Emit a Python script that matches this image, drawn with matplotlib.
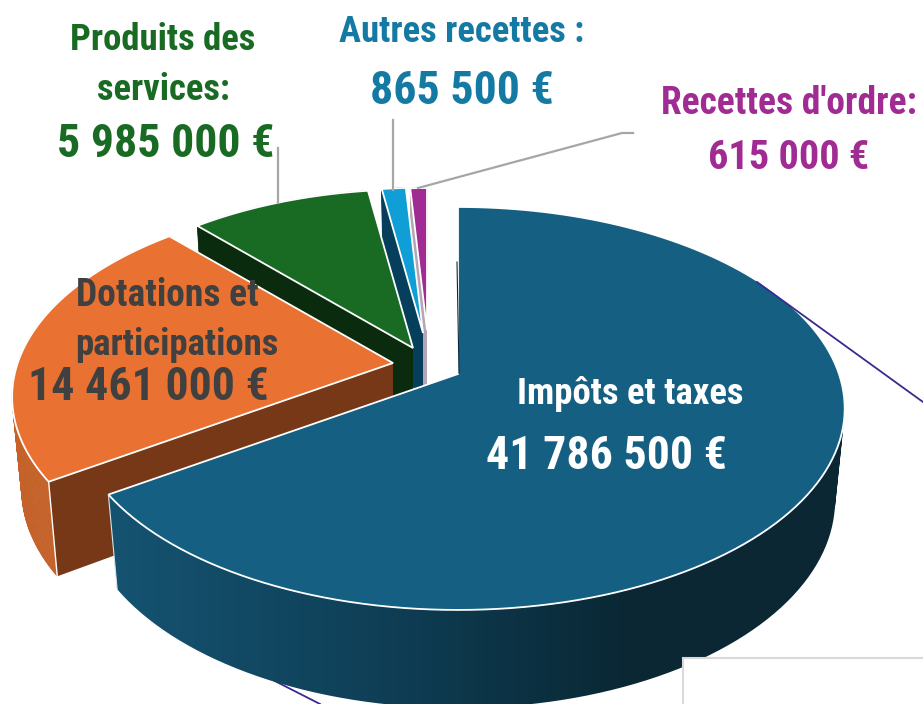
import numpy as np
import matplotlib
matplotlib.use('Agg')
import matplotlib.pyplot as plt
from matplotlib.collections import PolyCollection
from matplotlib.colors import LinearSegmentedColormap
from matplotlib.patches import PathPatch, Polygon, Rectangle
from matplotlib.path import Path

labels = ['Impôts et taxes', 'Dotations et participations', 'Produits des services',
          'Autres recettes', "Recettes d'ordre"]
values = [41786500, 14461000, 5985000, 865500, 615000]
value_labels = ['41 786 500 €', '14 461 000 €', '5 985 000 €', '865 500 €', '615 000 €']

top_colors = ['#156082', '#E97132', '#196B24', '#0F9ED5', '#A02B93']
face_colors = ['#0a2a3a', '#763817', '#0a2b0e', '#063f5c', '#b4a6b4']
apex = [(458, 374), (393, 363), (413, 348), (423, 333), (427, 330)]
scale = [1.0, 0.985, 0.95, 0.87, 0.85]

plt.rcParams['font.family'] = ['Roboto Condensed', 'Archivo Narrow', 'Roboto', 'DejaVu Sans']
plt.rcParams['font.weight'] = 'bold'

# tilted pie: unit circle through a perspective map, in pixel coordinates
A, B, C = 195.6, 381.0, 0.171
DEPTH, SHRINK_X, SHRINK_Y = 91, 0.975, 1.03


def rim(theta, k, p, lower=False):
    u, v = np.sin(theta), np.cos(theta)
    d = 1 + C * v
    x, y = k * B * u / d, -k * A * v / d
    if lower:
        return np.c_[p[0] + SHRINK_X * x, p[1] + DEPTH + SHRINK_Y * y]
    return np.c_[p[0] + x, p[1] + y]


def wall_quads(up, lo):
    quads = []
    for j in range(len(up) - 1):
        q = np.array([up[j], up[j + 1], lo[j + 1], lo[j]])
        # same turning direction for all, so the union fills without holes
        area = np.sum(q[:, 0] * np.roll(q[:, 1], -1) - np.roll(q[:, 0], -1) * q[:, 1])
        quads.append(q if area > 0 else q[::-1])
    return quads


fig = plt.figure(figsize=(9.23, 7.04), dpi=100)
ax = fig.add_axes([0, 0, 1, 1])

ax.plot([263, 320], [675, 704], color='#3a2a8f', lw=1.3, zorder=1)

edges = np.radians(np.r_[0, np.cumsum(values)] / np.sum(values) * 360)
wall_blue = LinearSegmentedColormap.from_list('b', ['#155472', '#0f4058', '#0a2733', '#0a2733'])

z = 2
# back to front: smallest slices first, big blue one last
for i in [4, 3, 2, 1, 0]:
    t = np.linspace(edges[i], edges[i + 1], 140)
    up = rim(t, scale[i], apex[i])
    lo = rim(t, scale[i], apex[i], lower=True)
    quads = wall_quads(up, lo)
    if i == 0:
        verts = np.vstack([np.vstack([q, q[0]]) for q in quads])
        codes = np.tile([Path.MOVETO, Path.LINETO, Path.LINETO, Path.LINETO, Path.CLOSEPOLY], len(quads))
        wall = PathPatch(Path(verts, codes), fc='none', ec='none', zorder=z)
        ax.add_patch(wall)
        grad = np.linspace(0, 1, 256)[None, :]
        im = ax.imshow(grad, cmap=wall_blue, extent=(100, 900, 720, 300), aspect='auto', zorder=z)
        im.set_clip_path(wall)
    else:
        wall_col = '#c4622a' if i == 1 else face_colors[i]
        ax.add_collection(PolyCollection(quads, facecolors=wall_col, edgecolors=wall_col, lw=0.5, zorder=z))
    z += 1
    a_up, a_lo = np.array(apex[i], float), np.array([apex[i][0], apex[i][1] + DEPTH], float)
    if i > 0:
        face = [a_up, up[0], lo[0], a_lo]
        ax.add_patch(Polygon(face, closed=True, fc=face_colors[i], ec='none', zorder=z))
    top = np.vstack([a_up, up])
    ax.add_patch(Polygon(top, closed=True, fc=top_colors[i], ec='white', lw=1.3,
                         joinstyle='miter', zorder=z + 1))
    if i == 1:
        ax.plot([up[0, 0], lo[0, 0]], [up[0, 1], lo[0, 1]], color='white', lw=1, zorder=z + 1)
    if i == 0:
        ax.plot([up[-1, 0], lo[-1, 0]], [up[-1, 1], lo[-1, 1]], color='#d8e4ea', lw=0.8, zorder=z + 1)
        ax.plot([457, 459], [262, 373], color='#0a2a3a', lw=0.8, zorder=z + 1)
    z += 2

# leader lines
ax.plot([757, 923], [282, 402], color='#3a2a8f', lw=1.3, zorder=30)
ax.plot([278, 278], [148, 203], color='#a6a6a6', lw=1.6, zorder=30)
ax.plot([393, 393], [120, 190], color='#a6a6a6', lw=1.6, zorder=30)
ax.plot([418, 622, 633], [188, 133, 133], color='#a6a6a6', lw=1.6, zorder=30)

# box at the bottom right
ax.add_patch(Rectangle((683, 658), 260, 60, fc='white', ec='#d9d9d9', lw=1.5, zorder=40))

GREEN, BLUE, PURPLE, GREY = '#196B24', '#157AA3', '#A02B93', '#404040'


def lab(x, y, s, size, color):
    ax.text(x, y + 3, s, fontsize=size, color=color, ha='center', va='center', zorder=50)


lab(163, 37, 'Produits des', 26.5, GREEN)
lab(163, 87, 'services:', 26.5, GREEN)
lab(166, 141, value_labels[2], 33, GREEN)
lab(462, 29, 'Autres recettes :', 26.5, BLUE)
lab(462, 88, value_labels[3], 33, BLUE)
lab(789, 101, "Recettes d'ordre:", 27, PURPLE)
lab(789, 155, value_labels[4], 29, PURPLE)
lab(167, 292, 'Dotations et', 27, GREY)
lab(177, 342, 'participations', 26.5, GREY)
lab(148, 384, value_labels[1], 33, GREY)
lab(630, 391, labels[0], 26.5, 'white')
lab(606, 453, value_labels[0], 33, 'white')

ax.set_xlim(0, 923)
ax.set_ylim(704, 0)
ax.axis('off')
fig.savefig('out.png', dpi=100)
